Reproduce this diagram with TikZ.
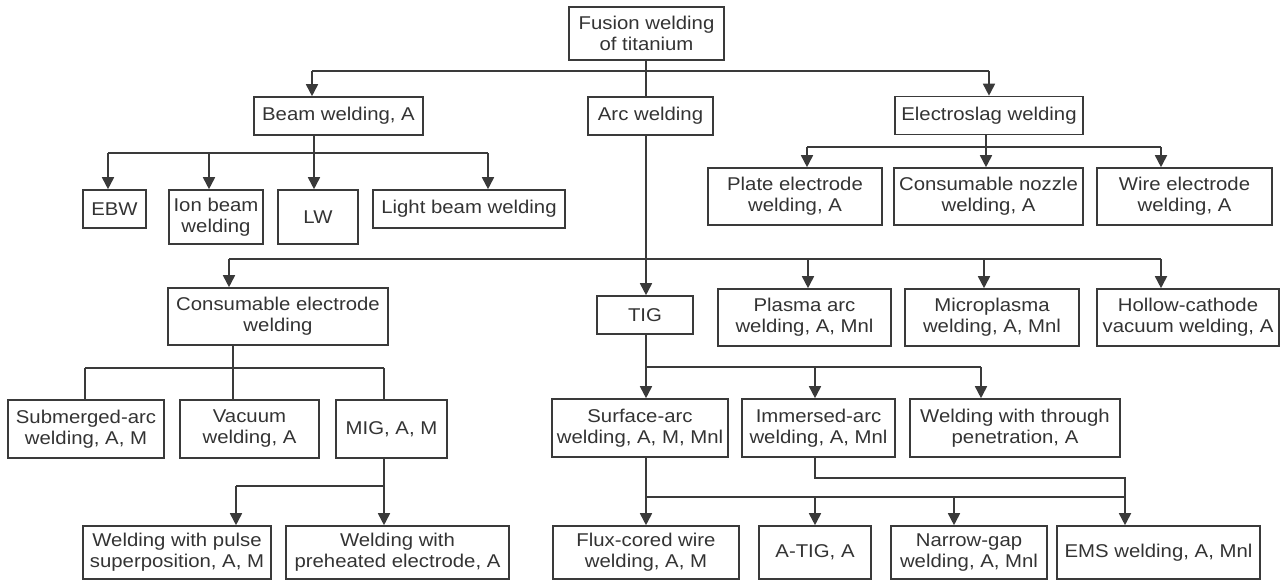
\documentclass[tikz,border=0pt]{standalone}
\usepackage{fontspec}
\setmainfont{Liberation Sans}[FakeStretch=1.1]
\usetikzlibrary{arrows.meta}
\definecolor{ink}{HTML}{3A3A3A}
\definecolor{txt}{HTML}{333333}
\begin{document}
\begin{tikzpicture}[x=1pt,y=-1pt,
  bx/.style={draw=ink, line width=1.6pt, inner sep=0pt, align=center, text=txt,
    font=\fontsize{18.5}{21}\selectfont, minimum width=#1},
  ln/.style={draw=ink, line width=1.7pt},
  arr/.style={ln, -{Triangle[width=12pt,length=12pt]}}]
\useasboundingbox (0,0) rectangle (1284,583);
% boxes
\node[bx=155, minimum height=53] (fus) at (646.5,33.5) {Fusion welding\\of titanium};
\node[bx=169, minimum height=38] (beam) at (338.5,116) {Beam welding, A};
\node[bx=125, minimum height=38] (arc) at (650.5,116) {Arc welding};
\node[bx=188, minimum height=38] (esl) at (989,115.5) {Electroslag welding};
\node[bx=63, minimum height=38] (ebw) at (114.5,209) {EBW};
\node[bx=94, minimum height=54] (ion) at (216,217) {Ion beam\\welding};
\node[bx=80, minimum height=54] (lw) at (318,217) {LW};
\node[bx=192, minimum height=38] (light) at (469,209) {Light beam welding};
\node[bx=174, minimum height=57] (plate) at (795,196.5) {Plate electrode\\welding, A};
\node[bx=189, minimum height=57] (nozzle) at (988.5,196.5) {Consumable nozzle\\welding, A};
\node[bx=175, minimum height=57] (wire) at (1184.5,196.5) {Wire electrode\\welding, A};
\node[bx=220, minimum height=57] (cons) at (278,316.5) {Consumable electrode\\welding};
\node[bx=96, minimum height=38] (tig) at (645,315) {TIG};
\node[bx=173, minimum height=57] (plasma) at (804.5,317.5) {Plasma arc\\welding, A, Mnl};
\node[bx=174, minimum height=57] (micro) at (992,317.5) {Microplasma\\welding, A, Mnl};
\node[bx=182, minimum height=57] (hollow) at (1188,317.5) {Hollow-cathode\\vacuum welding, A};
\node[bx=156, minimum height=58] (sub) at (86,429) {Submerged-arc\\welding, A, M};
\node[bx=139, minimum height=58] (vac) at (249.5,429) {Vacuum\\welding, A};
\node[bx=111, minimum height=58] (mig) at (391.5,429) {MIG, A, M};
\node[bx=176, minimum height=58] (surf) at (640,428) {Surface-arc\\welding, A, M, Mnl};
\node[bx=153, minimum height=58] (imm) at (818.5,428) {Immersed-arc\\welding, A, Mnl};
\node[bx=210, minimum height=58] (thr) at (1015,428) {Welding with through\\penetration, A};
\node[bx=188, minimum height=53] (pulse) at (177,552.5) {Welding with pulse\\superposition, A, M};
\node[bx=223, minimum height=53] (pre) at (397.5,552.5) {Welding with\\preheated electrode, A};
\node[bx=186, minimum height=53] (flux) at (646,552.5) {Flux-cored wire\\welding, A, M};
\node[bx=112, minimum height=53] (atig) at (815,552.5) {A-TIG, A};
\node[bx=156, minimum height=53] (narrow) at (969,552.5) {Narrow-gap\\welding, A, Mnl};
\node[bx=203, minimum height=53] (ems) at (1158.5,552.5) {EMS welding, A, Mnl};
% junction coordinates
\coordinate (j1a) at (312,71);   \coordinate (j1b) at (989,71);  \coordinate (j1c) at (646,71);
\coordinate (j2t) at (314,153);  \coordinate (j2a) at (108,153); \coordinate (j2b) at (209,153); \coordinate (j2c) at (488,153);
\coordinate (j3t) at (986,147);  \coordinate (j3a) at (807,147); \coordinate (j3b) at (1161,147);
\coordinate (j4t) at (646,259);  \coordinate (j4a) at (229,259); \coordinate (j4b) at (808,259); \coordinate (j4c) at (984,259); \coordinate (j4d) at (1161,259);
\coordinate (j5t) at (233,368);  \coordinate (j5a) at (85,368);  \coordinate (j5b) at (384,368);
\coordinate (j6t) at (646,367);  \coordinate (j6a) at (815,367); \coordinate (j6b) at (981,367);
\coordinate (j7t) at (384,486);  \coordinate (j7a) at (236,486);
\coordinate (j8t) at (646,497);  \coordinate (j8a) at (815,497); \coordinate (j8b) at (954,497); \coordinate (j8c) at (1125,497);
\coordinate (j9) at (815,478);   \coordinate (j9b) at (1125,478);
% level 1
\draw[ln] (j1c |- fus.south) -- (j1c |- arc.north);
\draw[ln] (j1a) -- (j1b);
\draw[arr] (j1a) -- (j1a |- beam.north);
\draw[arr] (j1b) -- (j1b |- esl.north);
% beam children
\draw[ln] (j2t |- beam.south) -- (j2t);
\draw[ln] (j2a) -- (j2c);
\draw[arr] (j2a) -- (j2a |- ebw.north);
\draw[arr] (j2b) -- (j2b |- ion.north);
\draw[arr] (j2t) -- (j2t |- lw.north);
\draw[arr] (j2c) -- (j2c |- light.north);
% electroslag children
\draw[ln] (j3t |- esl.south) -- (j3t);
\draw[ln] (j3a) -- (j3b);
\draw[arr] (j3a) -- (j3a |- plate.north);
\draw[arr] (j3t) -- (j3t |- nozzle.north);
\draw[arr] (j3b) -- (j3b |- wire.north);
% arc children
\draw[arr] (j4t |- arc.south) -- (j4t |- tig.north);
\draw[ln] (j4a) -- (j4d);
\draw[arr] (j4a) -- (j4a |- cons.north);
\draw[arr] (j4b) -- (j4b |- plasma.north);
\draw[arr] (j4c) -- (j4c |- micro.north);
\draw[arr] (j4d) -- (j4d |- hollow.north);
% consumable electrode children
\draw[ln] (j5t |- cons.south) -- (j5t);
\draw[ln] (j5a) -- (j5b);
\draw[ln] (j5a) -- (j5a |- sub.north);
\draw[ln] (j5t) -- (j5t |- vac.north);
\draw[ln] (j5b) -- (j5b |- mig.north);
% TIG children
\draw[ln] (j6t |- tig.south) -- (j6t);
\draw[ln] (j6t) -- (j6b);
\draw[arr] (j6t) -- (j6t |- surf.north);
\draw[arr] (j6a) -- (j6a |- imm.north);
\draw[arr] (j6b) -- (j6b |- thr.north);
% MIG children
\draw[ln] (j7t |- mig.south) -- (j7t);
\draw[ln] (j7a) -- (j7t);
\draw[arr] (j7a) -- (j7a |- pulse.north);
\draw[arr] (j7t) -- (j7t |- pre.north);
% surface-arc / immersed-arc children
\draw[ln] (j8t |- surf.south) -- (j8t);
\draw[ln] (j8t) -- (j8c);
\draw[ln] (j9 |- imm.south) -- (j9) -- (j9b) -- (j8c);
\draw[arr] (j8t) -- (j8t |- flux.north);
\draw[arr] (j8a) -- (j8a |- atig.north);
\draw[arr] (j8b) -- (j8b |- narrow.north);
\draw[arr] (j8c) -- (j8c |- ems.north);
\end{tikzpicture}
\end{document}
